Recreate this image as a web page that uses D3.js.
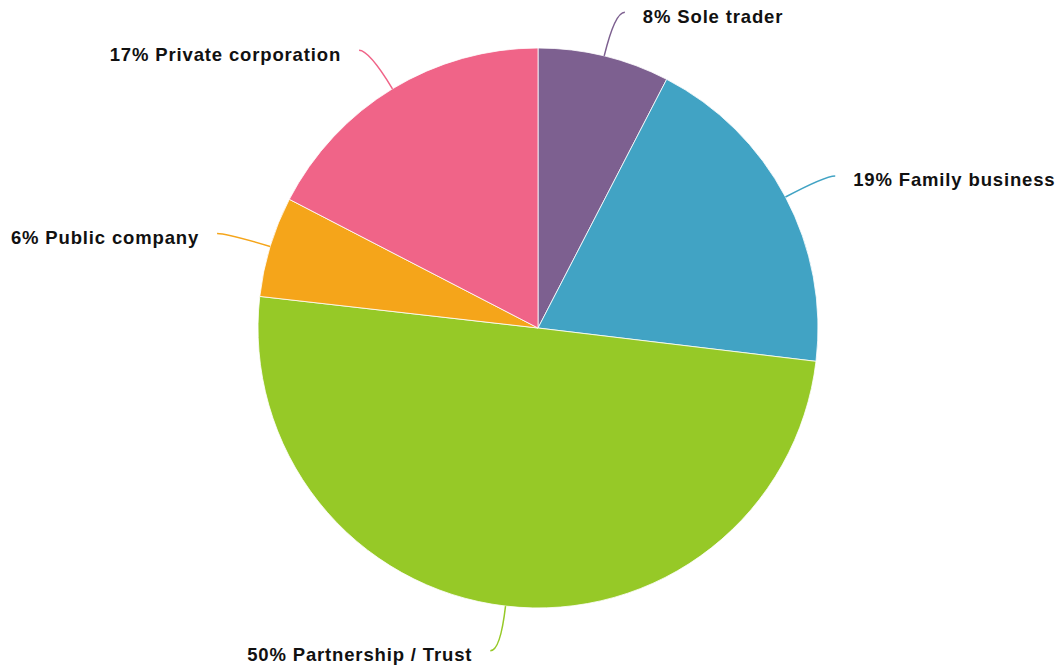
<!DOCTYPE html>
<html>
<head>
<meta charset="utf-8">
<script src="https://cdn.jsdelivr.net/npm/d3@7"></script>
<style>
  body { margin: 0; background: #fff; }
  text { font-family: "Liberation Sans", Arial, sans-serif; font-weight: bold; font-size: 18.5px; letter-spacing: 0.85px; fill: #111; }
</style>
</head>
<body>
<script>
// slice data, clockwise from 12 o'clock
var categories = ["Sole trader", "Family business", "Partnership / Trust", "Public company", "Private corporation"];
var values = [7.6, 19.3, 49.9, 5.8, 17.4];
var labels = ["8%", "19%", "50%", "6%", "17%"];
var colors = ["#7d6090", "#41a3c4", "#96c927", "#f5a51a", "#f06488"];

var w = 1058, h = 668;
var cx = 538, cy = 328, r = 280;
var len1 = 45, len2 = 10, gap = 18;

var svg = d3.select("body").append("svg")
  .attr("width", w)
  .attr("height", h);

var pie = d3.pie().sort(null).value(function(d) { return d; });
var arcs = pie(values);

var arc = d3.arc().innerRadius(0).outerRadius(r);

var g = svg.append("g").attr("transform", "translate(" + cx + "," + cy + ")");

g.selectAll("path.slice")
  .data(arcs)
  .enter()
  .append("path")
  .attr("class", "slice")
  .attr("d", arc)
  .style("fill", function(d, i) { return colors[i]; })
  .style("stroke", "#fff")
  .style("stroke-width", 0.8);

// leader line points
function pts(d) {
  var a = (d.startAngle + d.endAngle) / 2;
  var s = Math.sin(a), c = -Math.cos(a);
  var p0 = [r * s, r * c];
  var p1 = [(r + len1) * s, (r + len1) * c];
  var dir = s >= 0 ? 1 : -1;
  var p2 = [p1[0] + dir * len2, p1[1]];
  return { p0: p0, p1: p1, p2: p2, dir: dir };
}

g.selectAll("path.leader")
  .data(arcs)
  .enter()
  .append("path")
  .attr("class", "leader")
  .attr("d", function(d) {
    var p = pts(d);
    return "M" + p.p0 + "Q" + p.p1 + " " + p.p2;
  })
  .style("fill", "none")
  .style("stroke", function(d, i) { return colors[i]; })
  .style("stroke-width", 1.5);

g.selectAll("text")
  .data(arcs)
  .enter()
  .append("text")
  .attr("x", function(d) { var p = pts(d); return p.p2[0] + p.dir * gap; })
  .attr("y", function(d) { return pts(d).p2[1] + 4; })
  .attr("dy", "0.35em")
  .attr("text-anchor", function(d) { return pts(d).dir > 0 ? "start" : "end"; })
  .text(function(d, i) { return labels[i] + " " + categories[i]; });
</script>
</body>
</html>
